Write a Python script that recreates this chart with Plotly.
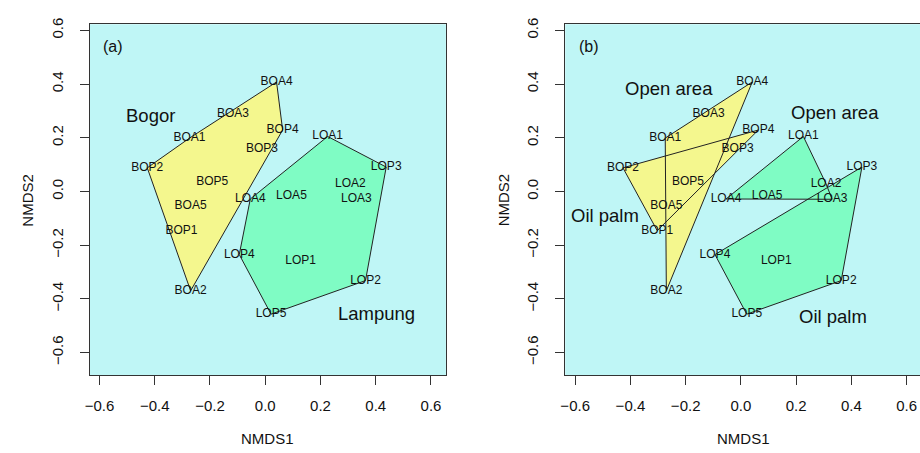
import plotly.graph_objects as go

# NMDS site scores
site = ["BOA1", "BOA2", "BOA3", "BOA4", "BOA5",
        "BOP1", "BOP2", "BOP3", "BOP4", "BOP5",
        "LOA1", "LOA2", "LOA3", "LOA4", "LOA5",
        "LOP1", "LOP2", "LOP3", "LOP4", "LOP5"]
nmds1 = [-0.274, -0.270, -0.117, 0.041, -0.270,
         -0.303, -0.427, -0.012, 0.063, -0.192,
         0.226, 0.308, 0.330, -0.054, 0.095,
         0.128, 0.363, 0.438, -0.094, 0.021]
nmds2 = [0.199, -0.370, 0.287, 0.408, -0.053,
         -0.146, 0.088, 0.158, 0.229, 0.036,
         0.205, 0.029, -0.029, -0.028, -0.015,
         -0.258, -0.332, 0.091, -0.235, -0.457]

region = [s[:2] for s in site]          # BO = Bogor, LO = Lampung
landuse = [s[:3] for s in site]         # BOA, BOP, LOA, LOP

axis_ticks = [-0.6, -0.4, -0.2, 0.0, 0.2, 0.4, 0.6]

# group label text and positions (panel a, panel b)
labels_a = [("Bogor", -0.417, 0.284), ("Lampung", 0.404, -0.453)]
labels_b = [("Open area", -0.261, 0.382), ("Oil palm", -0.492, -0.089),
            ("Open area", 0.339, 0.294), ("Oil palm", 0.333, -0.466)]

YELLOW = "#F4F78E"
GREEN = "#7FFCC4"
BG = "#BFF6F6"
FONT = "Liberation Sans, Arial, Helvetica, sans-serif"


def hull(xs, ys):
    pts = sorted(set(zip(xs, ys)))
    if len(pts) < 3:
        return pts

    def cross(o, a, b):
        return (a[0] - o[0]) * (b[1] - o[1]) - (a[1] - o[1]) * (b[0] - o[0])

    lower, upper = [], []
    for p in pts:
        while len(lower) >= 2 and cross(lower[-2], lower[-1], p) <= 0:
            lower.pop()
        lower.append(p)
    for p in reversed(pts):
        while len(upper) >= 2 and cross(upper[-2], upper[-1], p) <= 0:
            upper.pop()
        upper.append(p)
    h = lower[:-1] + upper[:-1]
    return h + [h[0]]


def group_hull(keys, key):
    xs = [x for x, k in zip(nmds1, keys) if k == key]
    ys = [y for y, k in zip(nmds2, keys) if k == key]
    h = hull(xs, ys)
    return [p[0] for p in h], [p[1] for p in h]


fig = go.Figure()

panels = [
    ("x", "y", region, [("BO", YELLOW), ("LO", GREEN)]),
    ("x2", "y2", landuse, [("BOA", YELLOW), ("BOP", YELLOW),
                           ("LOA", GREEN), ("LOP", GREEN)]),
]

for xa, ya, keys, groups in panels:
    # fills first, outlines after, so every hull border stays visible
    for key, col in groups:
        hx, hy = group_hull(keys, key)
        fig.add_trace(go.Scatter(x=hx, y=hy, xaxis=xa, yaxis=ya, mode="lines",
                                 fill="toself", fillcolor=col,
                                 line=dict(width=0, color=col),
                                 hoverinfo="skip", showlegend=False))
    for key, col in groups:
        hx, hy = group_hull(keys, key)
        fig.add_trace(go.Scatter(x=hx, y=hy, xaxis=xa, yaxis=ya, mode="lines",
                                 line=dict(width=1, color="#222222"),
                                 hoverinfo="skip", showlegend=False))
    fig.add_trace(go.Scatter(x=nmds1, y=nmds2, xaxis=xa, yaxis=ya, mode="text",
                             text=site, textposition="middle center",
                             textfont=dict(family=FONT, size=12, color="#111111"),
                             hoverinfo="skip", showlegend=False))

for txt, x, y in labels_a:
    fig.add_annotation(x=x, y=y, xref="x", yref="y", text=txt, showarrow=False,
                       font=dict(family=FONT, size=18.5, color="#111111"))
for txt, x, y in labels_b:
    fig.add_annotation(x=x, y=y, xref="x2", yref="y2", text=txt, showarrow=False,
                       font=dict(family=FONT, size=18.5, color="#111111"))
for txt, xr, yr in [("(a)", "x", "y"), ("(b)", "x2", "y2")]:
    fig.add_annotation(x=-0.55, y=0.54, xref=xr, yref=yr, text=txt, showarrow=False,
                       font=dict(family=FONT, size=16, color="#111111"))

W, H = 920, 453
box_top, box_bot = 18.5, 374.3
left_l, left_r = 85.0, 443.3
right_l = 563.3
x_lo, x_hi = -0.636, 0.654
px_per_unit = (left_r - left_l) / (x_hi - x_lo)
y_lo, y_hi = -0.685, 0.623
ydom = [1 - box_bot / H, 1 - box_top / H]

tick_font = dict(family=FONT, size=15, color="#111111")
common_x = dict(tickmode="array", tickvals=axis_ticks, tickformat=".1f",
                ticks="outside", ticklen=9, tickcolor="#333333", tickwidth=1,
                showgrid=False, zeroline=False, showline=True, linecolor="#333333",
                linewidth=1, mirror=True, tickfont=tick_font, ticklabelstandoff=8)
common_y = dict(tickmode="array", tickvals=axis_ticks, tickformat=".1f",
                ticks="outside", ticklen=9, tickcolor="#333333", tickwidth=1,
                showgrid=False, zeroline=False, showline=True, linecolor="#333333",
                linewidth=1, tickfont=tick_font, tickangle=-90, ticklabelstandoff=11)

fig.update_layout(
    width=W, height=H, autosize=False,
    margin=dict(l=0, r=0, t=0, b=0),
    paper_bgcolor="white", plot_bgcolor=BG,
    xaxis=dict(domain=[left_l / W, left_r / W], range=[x_lo, x_hi], anchor="y", **common_x),
    yaxis=dict(domain=ydom, range=[y_lo, y_hi], anchor="x", mirror=True, **common_y),
    xaxis2=dict(domain=[right_l / W, 1.0],
                range=[x_lo, x_lo + (W - right_l) / px_per_unit], anchor="y2", **common_x),
    yaxis2=dict(domain=ydom, range=[y_lo, y_hi], anchor="x2", mirror=False, **common_y),
)

# axis titles
for cx in [(left_l + left_r) / 2, right_l + (left_r - left_l) / 2]:
    fig.add_annotation(x=cx / W, y=1 - 438 / H, xref="paper", yref="paper",
                       xanchor="center", yanchor="middle",
                       text="NMDS1", showarrow=False, font=tick_font)
for cx in [23, 23 + (right_l - left_l)]:
    fig.add_annotation(x=cx / W, y=1 - (box_top + box_bot) / 2 / H, xref="paper",
                       yref="paper", xanchor="center", yanchor="middle",
                       text="NMDS2", showarrow=False, textangle=-90,
                       font=tick_font)

fig.write_html("out.html")
